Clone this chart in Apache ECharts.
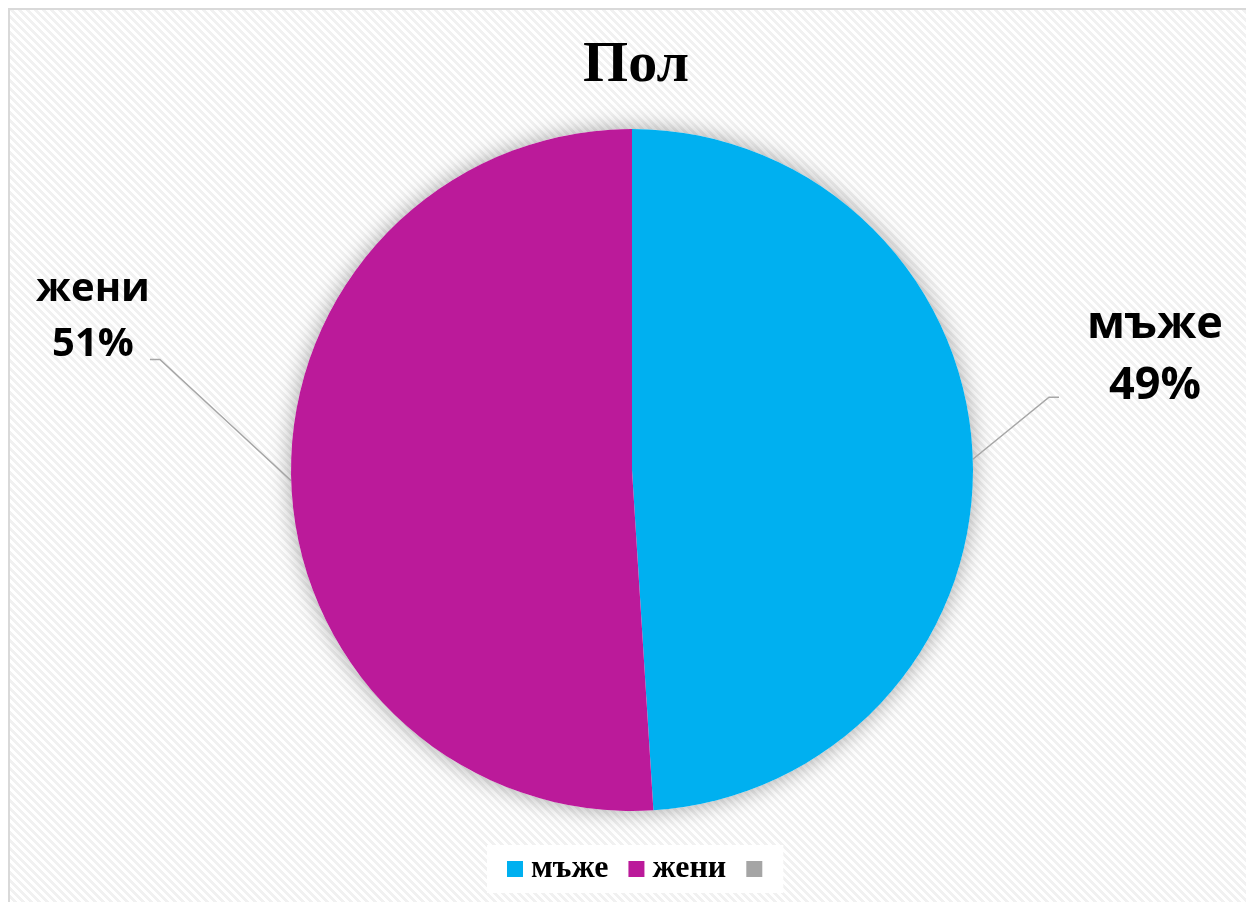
<!DOCTYPE html>
<html>
<head>
<meta charset="utf-8">
<script src="https://cdn.jsdelivr.net/npm/echarts@6/dist/echarts.min.js"></script>
<style>
  html, body { margin: 0; padding: 0; background: #ffffff; }
  #chart { width: 1246px; height: 902px; }
</style>
</head>
<body>
<div id="chart"></div>
<script>
// Gender split
const titleText = 'Пол';
const categories = ['мъже', 'жени', ' '];
const shares = [49, 51, 0];
const sliceColors = ['#00B0F0', '#BB1A9A', '#A5A5A5'];

// Small tile for the light diagonal-stripe chart background
function stripeTile() {
  const c = document.createElement('canvas');
  c.width = 8; c.height = 8;
  const g = c.getContext('2d');
  g.fillStyle = '#ffffff';
  g.fillRect(0, 0, 8, 8);
  g.fillStyle = '#f1f1f1';
  for (let i = 0; i < 8; i++) {
    for (let w = 0; w < 4; w++) g.fillRect((i + w) % 8, i, 1, 1);
  }
  return c;
}

const pieCenter = [632, 470];
const pieRadius = 341;

// Outside label boxes. The trailing blank spacer line sizes the box,
// so its edge middle is where the leader line meets the label.
const labelBoxes = [
  { x: 1155, y: 426, fontSize: 45, lineHeight: 61, spacer: 141, spacerWidth: 192 },
  { x: 93, y: 389, fontSize: 40, lineHeight: 55, spacer: 143, spacerWidth: 10 }
];

const sliceData = categories.map((name, i) => {
  const item = { name: name, value: shares[i], itemStyle: { color: sliceColors[i] } };
  const b = labelBoxes[i];
  if (b) {
    item.label = {
      rich: {
        t: {
          fontFamily: 'Open Sans',
          fontWeight: 'bold',
          fontSize: b.fontSize,
          lineHeight: b.lineHeight,
          color: '#000000',
          align: 'center'
        },
        g: { fontSize: 10, lineHeight: b.spacer, width: b.spacerWidth }
      }
    };
  }
  if (!shares[i]) {
    item.label = { show: false };
    item.labelLine = { show: false };
  }
  return item;
});

const chart = echarts.init(document.getElementById('chart'), null, { renderer: 'canvas' });

chart.setOption({
  animation: false,
  backgroundColor: '#ffffff',
  graphic: [{
    type: 'rect',
    z: -10,
    silent: true,
    shape: { x: 9, y: 9, width: 1300, height: 1000 },
    style: {
      fill: { image: stripeTile(), repeat: 'repeat' },
      stroke: '#d9d9d9',
      lineWidth: 2
    }
  }],
  title: {
    text: titleText,
    left: 631,
    textAlign: 'center',
    top: 32,
    textStyle: {
      fontFamily: 'Liberation Serif',
      fontWeight: 'bold',
      fontSize: 58,
      color: '#000000'
    }
  },
  legend: {
    data: categories,
    left: 487,
    bottom: 9,
    icon: 'rect',
    itemWidth: 16,
    itemHeight: 16,
    itemGap: 20,
    padding: [8, 21, 8, 20],
    backgroundColor: '#ffffff',
    formatter: name => name.trim(),
    textStyle: {
      fontFamily: 'Liberation Serif',
      fontWeight: 'bold',
      fontSize: 32,
      color: '#000000',
      padding: [0, 0, 0, 3]
    }
  },
  series: [
    {
      // white disc underneath that carries the soft drop shadow
      type: 'pie',
      silent: true,
      center: pieCenter,
      radius: pieRadius,
      z: 1,
      label: { show: false },
      labelLine: { show: false },
      data: [{ name: 'disc', value: 1, itemStyle: { color: '#ffffff', shadowBlur: 22, shadowColor: 'rgba(0,0,0,0.35)' } }]
    },
    {
      type: 'pie',
      center: pieCenter,
      radius: pieRadius,
      startAngle: 90,
      clockwise: true,
      z: 2,
      itemStyle: { borderWidth: 0 },
      label: {
        show: true,
        position: 'outside',
        formatter: p => '{t|' + p.name + '}\n{t|' + Math.round(p.percent) + '%}\n{g|\u00a0}',
        align: 'center'
      },
      labelLine: {
        show: true,
        length: 40,
        length2: 10,
        lineStyle: { color: '#a6a6a6', width: 1.5 }
      },
      labelLayout: function (p) {
        const b = labelBoxes[p.dataIndex];
        if (!b) return {};
        return { x: b.x, y: b.y, align: 'center', verticalAlign: 'middle' };
      },
      data: sliceData
    }
  ]
});
</script>
</body>
</html>
